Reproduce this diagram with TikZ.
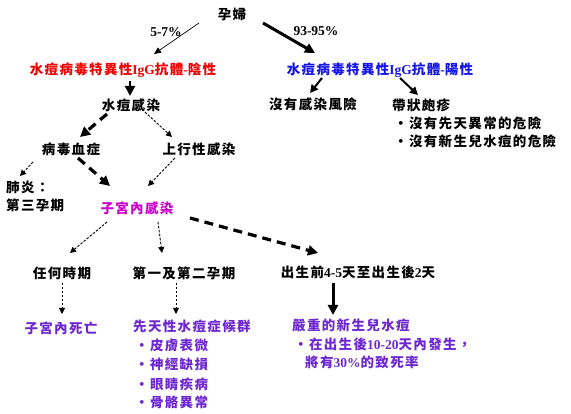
\documentclass[tikz,border=0pt]{standalone}
\usepackage{fontspec}
\usetikzlibrary{arrows.meta,calc}
\setmainfont{Noto Sans CJK TC}[LetterSpace=10]
\newfontfamily\latf{Liberation Serif}
\newcommand{\lat}[1]{{\latf\bfseries #1}}
\definecolor{cred}{RGB}{240,0,0}
\definecolor{cblue}{RGB}{20,20,235}
\definecolor{cmag}{RGB}{204,0,204}
\definecolor{cpur}{RGB}{110,40,210}
\tikzset{
  txt/.style={font=\bfseries\fontsize{13.5}{15}\selectfont, inner sep=1pt},
  lft/.style={txt, anchor=west},
  thinarr/.style={line width=0.7pt, -{Triangle[length=7pt,width=6pt]}},
  thickarr/.style={line width=3pt, -{Triangle[length=10pt,width=10pt]}},
  dotarr/.style={line width=0.9pt, dash pattern=on 2.5pt off 1.5pt, -{Triangle[length=6pt,width=6pt]}},
  thickdash/.style={line width=3.2pt, dash pattern=on 9pt off 6pt, -{Triangle[length=10pt,width=10pt]}},
}
\begin{document}
\begin{tikzpicture}[x=1pt,y=-1pt]
\useasboundingbox (0,0) rectangle (571,414);
\fill[white] (0,0) rectangle (571,414);
% nodes
\node[txt] (preg) at (232,14) {孕婦};
\node[txt] (p57) at (166,32) {\lat{5-7\%}};
\node[txt] (p93) at (316,31) {\lat{93-95\%}};
\node[txt, text=cred] (neg) at (123,70) {水痘病毒特異性\lat{IgG}抗體\lat{-}陰性};
\node[txt, text=cblue] (pos) at (380,70) {水痘病毒特異性\lat{IgG}抗體\lat{-}陽性};
\node[txt] (inf) at (131,105) {水痘感染};
\node[txt] (norisk) at (313,104) {沒有感染風險};
\node[lft] (shing) at (391,105) {帶狀皰疹};
\node[lft] (b1) at (393,123) {・沒有先天異常的危險};
\node[lft] (b2) at (393,141) {・沒有新生兒水痘的危險};
\node[txt] (vir) at (71,149) {病毒血症};
\node[txt] (asc) at (199,149) {上行性感染};
\node[lft] (pn1) at (5,187) {肺炎：};
\node[lft] (pn2) at (5,205) {第三孕期};
\node[txt, text=cmag] (ute) at (137,208) {子宮內感染};
\node[txt] (any) at (62,273) {任何時期};
\node[txt] (tri) at (184,273) {第一及第二孕期};
\node[txt] (birth) at (358,272) {出生前\lat{4-5}天至出生後\lat{2}天};
\node[txt, text=cpur] (death) at (61,328) {子宮內死亡};
\node[lft, text=cpur] (cong) at (132,326) {先天性水痘症候群};
\node[lft, text=cpur] (c1) at (134,345) {・皮膚表微};
\node[lft, text=cpur] (c2) at (134,364) {・神經缺損};
\node[lft, text=cpur] (c3) at (134,384) {・眼睛疾病};
\node[lft, text=cpur] (c4) at (134,402) {・骨骼異常};
\node[lft, text=cpur] (sev) at (291,325) {嚴重的新生兒水痘};
\node[lft, text=cpur] (s1) at (293,344) {・在出生後\lat{10-20}天內發生，};
\node[lft, text=cpur] (s2) at (304,362) {將有\lat{30\%}的致死率};
% connectors
\draw[thinarr] ($(preg)+(-33,9)$) -- ($(neg)+(31,-16)$);
\draw[thickarr] ($(preg)+(31,9)$) -- ($(pos)+(-65,-17)$);
\draw[thickarr, line width=2pt] ($(neg)+(7,11)$) -- ($(inf)+(-1,-9)$);
\draw[thickarr, line width=2pt, -{Triangle[length=8pt,width=8pt]}] ($(pos)+(-58,8)$) -- ($(norisk)+(-3,-11)$);
\draw[thickarr, line width=2pt, -{Triangle[length=8pt,width=8pt]}] ($(pos)+(20,8)$) -- ($(shing.west)+(27,-10)$);
\draw[thickdash] ($(inf)+(-24,9)$) -- ($(vir)+(9,-12)$);
\draw[dotarr] ($(inf)+(14,7)$) -- ($(asc)+(-27,-12)$);
\draw[dotarr] ($(vir)+(-38,13)$) -- ($(pn1.west)+(15,-11)$);
\draw[thickdash] ($(vir)+(7,9)$) -- ($(ute)+(-27,-22)$);
\draw[dotarr] ($(asc)+(-24,9)$) -- ($(ute)+(11,-22)$);
\draw[dotarr] ($(ute)+(-30,14)$) -- ($(any)+(8,-20)$);
\draw[dotarr] ($(ute)+(21,14)$) -- ($(tri)+(-22,-20)$);
\draw[thickdash] ($(ute)+(53,10)$) -- ($(birth)+(-40,-19)$);
\draw[dotarr] ($(any)+(0,10)$) -- ($(any)+(0,41)$);
\draw[dotarr] ($(tri)+(-8,10)$) -- ($(tri)+(-8,41)$);
\draw[thickarr] ($(birth)+(-25,11)$) -- ($(sev.west)+(42,-10)$);
\end{tikzpicture}
\end{document}
